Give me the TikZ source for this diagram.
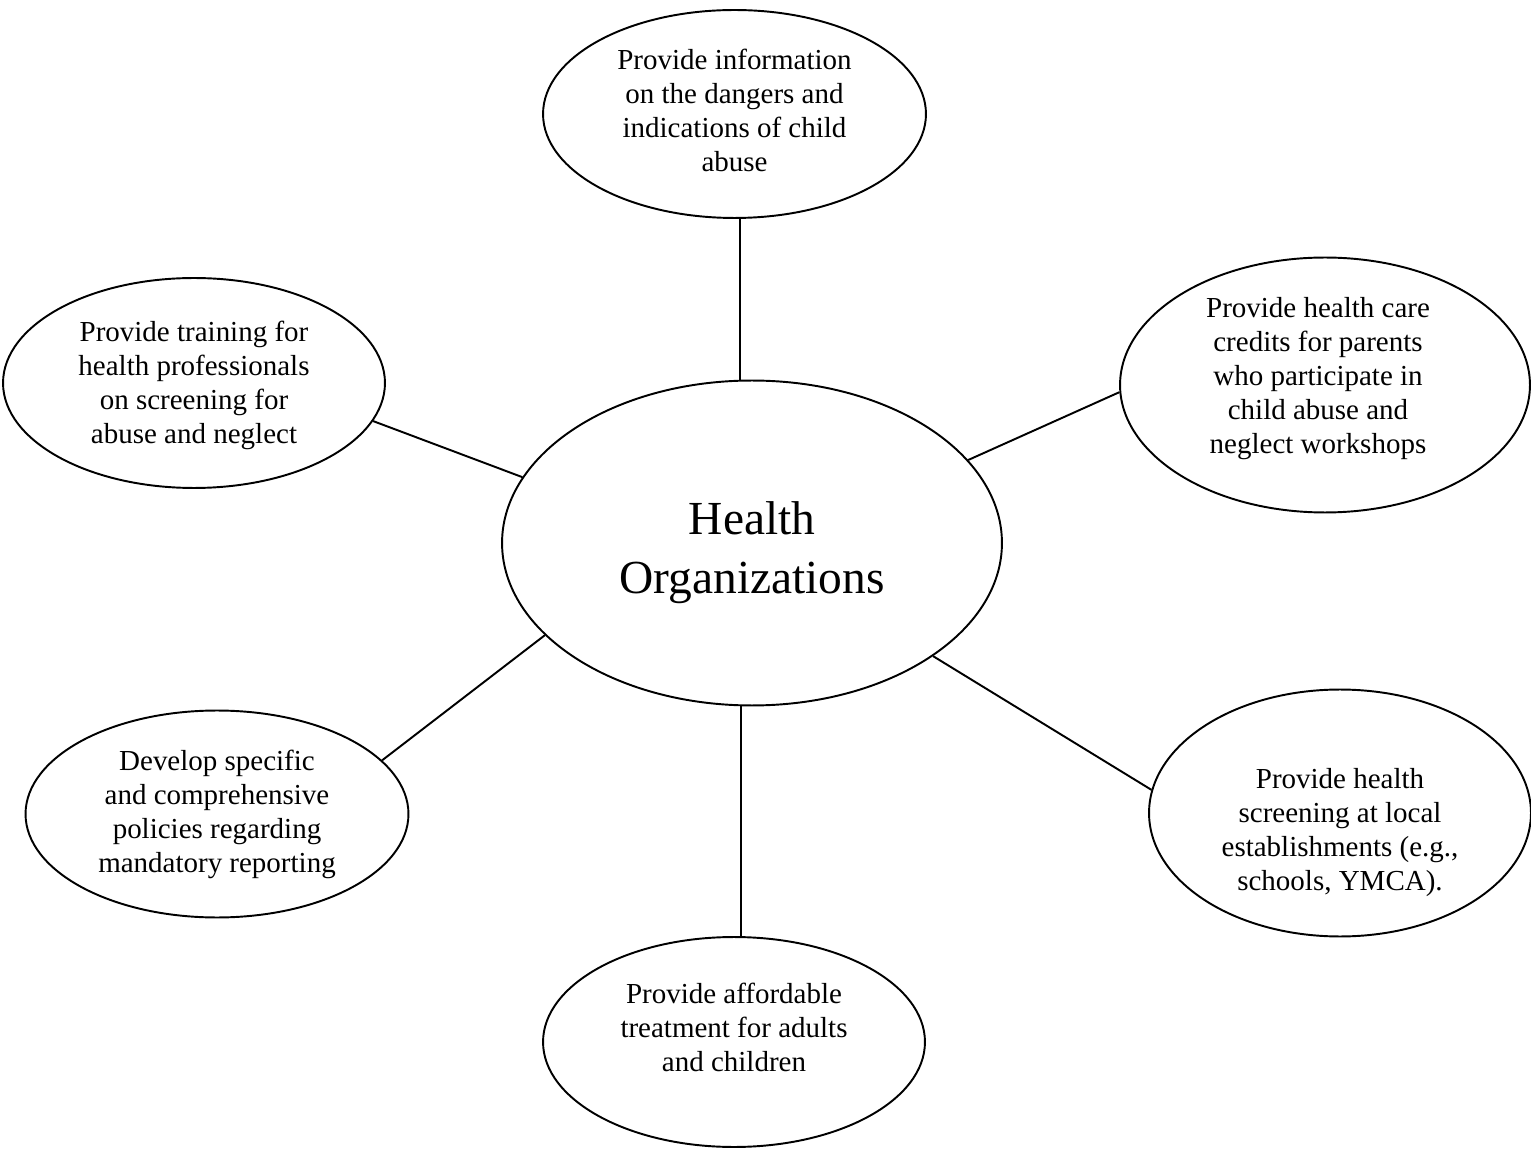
\documentclass[tikz,border=0pt]{standalone}
\usepackage{fontspec}
\setmainfont{Liberation Serif}
\usetikzlibrary{shapes.geometric}

\begin{document}
\begin{tikzpicture}[x=0.02cm,y=-0.02cm,line width=1.1pt,
                    idea/.style={draw,ellipse,inner sep=0pt},
                    ideatext/.style={align=center,font=\fontsize{16.5}{19.35}\selectfont}]
  \useasboundingbox (0,0) rectangle (1531,1151);

  % hub
  \node[idea,minimum width=10cm,minimum height=6.5cm] (health) at (752,543) {};
  \node[align=center,font=\fontsize{27}{33.5}\selectfont] (healthtext) at ([yshift=-0.2cm]health) {Health\\Organizations};

  % spokes
  \node[idea,minimum width=7.66cm,minimum height=4.16cm] (info) at (734.5,114) {};
  \node[idea,minimum width=8.2cm,minimum height=5.1cm] (credits) at (1325,385) {};
  \node[idea,minimum width=7.64cm,minimum height=4.2cm] (training) at (194,383) {};
  \node[idea,minimum width=7.66cm,minimum height=4.14cm] (policies) at (217,814) {};
  \node[idea,minimum width=7.64cm,minimum height=4.2cm] (treatment) at (734,1042) {};
  \node[idea,minimum width=7.64cm,minimum height=4.94cm] (screening) at (1340,813) {};

  \node[ideatext] (infotext) at ([yshift=0.08cm]info) {Provide information\\on the dangers and\\indications of child\\abuse};
  \node[ideatext] (creditstext) at ([xshift=-0.14cm,yshift=0.12cm]credits) {Provide health care\\credits for parents\\who participate in\\child abuse and\\neglect workshops};
  \node[ideatext] (trainingtext) at ([yshift=-0.04cm]training) {Provide training for\\health professionals\\on screening for\\abuse and neglect};
  \node[ideatext] (policiestext) at (policies) {Develop specific\\and comprehensive\\policies regarding\\mandatory reporting};
  \node[ideatext] (treatmenttext) at ([yshift=0.3cm]treatment) {Provide affordable\\treatment for adults\\and children};
  \node[ideatext] (screeningtext) at ([yshift=-0.4cm]screening) {Provide health\\screening at local\\establishments (e.g.,\\schools, YMCA).};

  \draw (info.273.6) -- (info.273.6 |- health.north);
  \draw (health.21.3) -- (credits.182.3);
  \draw (health.164.8) -- (training.-12.5);
  \draw (health.204.7) -- (policies.18.4);
  \draw (treatment.86.2 |- health.south) -- (treatment.86.2);
  \draw (health.328.1) -- (screening.173.7);
\end{tikzpicture}
\end{document}
